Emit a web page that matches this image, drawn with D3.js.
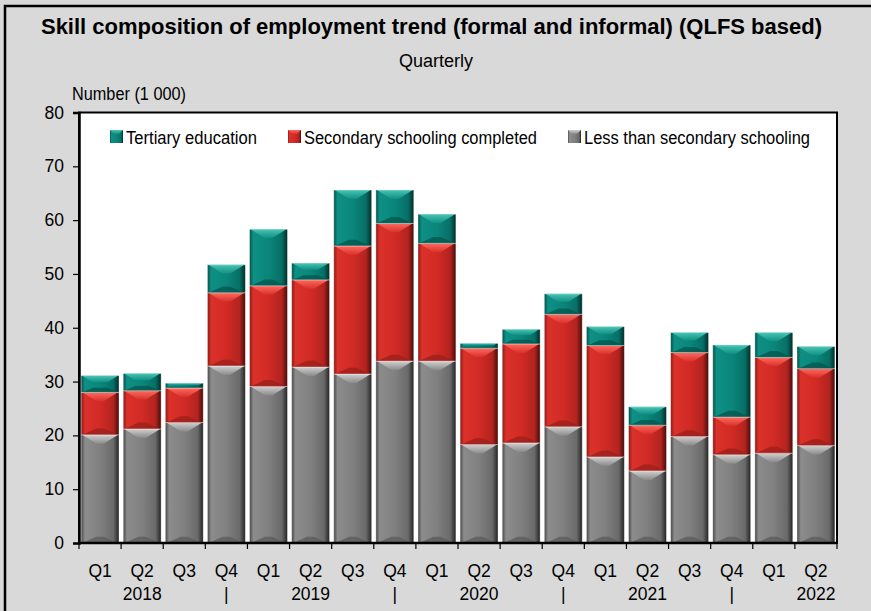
<!DOCTYPE html>
<html>
<head>
<meta charset="utf-8">
<script src="https://cdn.jsdelivr.net/npm/d3@7"></script>
<style>
    body { margin: 0; background: #d9d9d9; }
    text { font-family: "Liberation Sans", Arial, sans-serif; fill: #000; }
</style>
</head>
<body>
<div id="chart"></div>
<script>
// quarterly categories, 2018 Q1 .. 2022 Q2
const quarters = ["Q1", "Q2", "Q3", "Q4", "Q1", "Q2", "Q3", "Q4", "Q1", "Q2", "Q3", "Q4", "Q1", "Q2", "Q3", "Q4", "Q1", "Q2"];
const yearLabels = ["", "2018", "", "|", "", "2019", "", "|", "", "2020", "", "|", "", "2021", "", "|", "", "2022"];

// Number (1 000)
const lessThanSecondary = [20.1, 21.2, 22.4, 32.9, 29.1, 32.7, 31.4, 33.8, 33.8, 18.3, 18.6, 21.6, 16.0, 13.4, 19.8, 16.4, 16.7, 18.1];
const secondaryCompleted = [7.9, 7.1, 6.4, 13.6, 18.7, 16.2, 23.8, 25.6, 21.9, 17.9, 18.4, 20.9, 20.7, 8.5, 15.6, 7.0, 17.8, 14.3];
const tertiary = [3.1, 3.2, 0.9, 5.2, 10.5, 3.1, 10.4, 6.2, 5.4, 0.9, 2.7, 3.8, 3.5, 3.4, 3.7, 13.4, 4.6, 4.1];

const yTicks = [0, 10, 20, 30, 40, 50, 60, 70, 80];

const series = [
    { key: "less", name: "Less than secondary schooling", values: lessThanSecondary,
      stops: ["#474747", "#8c8c8c", "#808080", "#6a6a6a", "#232323"], top: ["#d0d0d0", "#8a8a8a"], bottom: "#5c5c5c" },
    { key: "sec", name: "Secondary schooling completed", values: secondaryCompleted,
      stops: ["#8c1a16", "#da312b", "#d22a24", "#b22420", "#470c0a"], top: ["#ff6a5e", "#d8302a"], bottom: "#9c201c" },
    { key: "ter", name: "Tertiary education", values: tertiary,
      stops: ["#05524b", "#0f9084", "#0a867b", "#076f66", "#022c28"], top: ["#47c6b6", "#0f8e82"], bottom: "#055750" }
];
const legendOrder = ["ter", "sec", "less"];

const width = 871, height = 611;
const margin = { left: 79, right: 837, top: 112.5, bottom: 543 };

const keys = quarters.map((q, i) => i + "_" + q);
const rows = keys.map((k, i) => {
    const r = { key: k };
    series.forEach((s) => (r[s.key] = s.values[i]));
    return r;
});

const x = d3.scaleBand().domain(keys).range([margin.left, margin.right]).paddingInner(0.1).paddingOuter(0.05);
const y = d3.scaleLinear().domain([0, 80]).range([margin.bottom, margin.top]);

const stacked = d3.stack().keys(series.map((s) => s.key))(rows);

const svg = d3.select("#chart").append("svg").attr("width", width).attr("height", height);
const defs = svg.append("defs");

series.forEach((s) => {
    const g = defs.append("linearGradient").attr("id", "side-" + s.key).attr("x1", 0).attr("x2", 1).attr("y1", 0).attr("y2", 0);
    [0, 0.1, 0.5, 0.85, 1].forEach((o, i) => g.append("stop").attr("offset", o).attr("stop-color", s.stops[i]));
    const t = defs.append("linearGradient").attr("id", "top-" + s.key).attr("x1", 0).attr("x2", 0).attr("y1", 0).attr("y2", 1);
    t.append("stop").attr("offset", 0).attr("stop-color", s.top[0]);
    t.append("stop").attr("offset", 1).attr("stop-color", s.top[1]);
});

// outer frame
svg.append("rect").attr("x", 5).attr("y", 6).attr("width", 900).attr("height", 700)
    .attr("fill", "#d9d9d9").attr("stroke", "#000").attr("stroke-width", 2.5);

svg.append("text").attr("x", 431.5).attr("y", 34).attr("text-anchor", "middle")
    .style("font-size", "22px").style("font-weight", "bold")
    .text("Skill composition of employment trend (formal and informal) (QLFS based)");
svg.append("text").attr("x", 436).attr("y", 67).attr("text-anchor", "middle")
    .style("font-size", "18px").text("Quarterly");
svg.append("text").attr("x", 72).attr("y", 100)
    .attr("textLength", 114).attr("lengthAdjust", "spacingAndGlyphs")
    .style("font-size", "17.5px").text("Number (1 000)");

// plot area
svg.append("rect").attr("x", margin.left).attr("y", margin.top)
    .attr("width", margin.right - margin.left).attr("height", margin.bottom - margin.top)
    .attr("fill", "#fff").attr("stroke", "#000").attr("stroke-width", 2);

// bars with bevelled look
const layer = svg.append("g");
stacked.forEach((st, si) => {
    const s = series[si];
    st.forEach((d, i) => {
        const bx = x(keys[i]), bw = x.bandwidth();
        const y0 = y(d[1]), y1 = y(d[0]);
        const h = y1 - y0;
        if (h <= 0) return;
        const b = Math.min(9, h / 2.5);
        const g = layer.append("g");
        g.append("rect").attr("x", bx).attr("y", y0).attr("width", bw).attr("height", h)
            .attr("fill", `url(#side-${s.key})`);
        g.append("polygon")
            .attr("points", [[bx + 1, y0], [bx + bw - 1, y0], [bx + bw - 1 - b * 1.6, y0 + b], [bx + 1 + b * 1.6, y0 + b]].join(" "))
            .attr("fill", `url(#top-${s.key})`);
        g.append("polygon")
            .attr("points", [[bx + 1, y1], [bx + bw - 1, y1], [bx + bw - 1 - b * 1.6, y1 - b * 0.7], [bx + 1 + b * 1.6, y1 - b * 0.7]].join(" "))
            .attr("fill", s.bottom).attr("opacity", 0.8);
        g.append("rect").attr("x", bx).attr("y", y0).attr("width", bw).attr("height", h)
            .attr("fill", "none").attr("stroke", "#fff").attr("stroke-opacity", 0.45).attr("stroke-width", 0.8);
    });
});

// axes
const yAxis = svg.append("g").attr("transform", `translate(${margin.left},0)`)
    .call(d3.axisLeft(y).tickValues(yTicks).tickSize(6).tickPadding(9));
yAxis.select(".domain").attr("stroke-width", 2.5);
yAxis.selectAll(".tick line").attr("stroke-width", 1.2);
yAxis.selectAll(".tick text").style("font-size", "17.5px").style("font-family", '"Liberation Sans", Arial, sans-serif');

const boundaries = d3.range(keys.length + 1).map((i) => margin.left + i * x.step());
const xAxis = svg.append("g");
xAxis.append("line").attr("x1", margin.left).attr("x2", margin.right)
    .attr("y1", margin.bottom).attr("y2", margin.bottom).attr("stroke", "#000").attr("stroke-width", 2.5);
xAxis.selectAll("line.tick").data(boundaries).join("line").attr("class", "tick")
    .attr("x1", (d) => d).attr("x2", (d) => d).attr("y1", margin.bottom).attr("y2", margin.bottom + 6)
    .attr("stroke", "#000").attr("stroke-width", 1.2);
xAxis.selectAll("text.q").data(keys).join("text").attr("class", "q")
    .attr("x", (d) => x(d) + x.bandwidth() / 2).attr("y", 577).attr("text-anchor", "middle")
    .style("font-size", "17.5px").text((d, i) => quarters[i]);
xAxis.selectAll("text.yr").data(keys).join("text").attr("class", "yr")
    .attr("x", (d) => x(d) + x.bandwidth() / 2).attr("y", 600).attr("text-anchor", "middle")
    .style("font-size", "17.5px").text((d, i) => yearLabels[i]);

// legend
const legendX = { ter: 110, sec: 288, less: 568 };
const legendWidth = { ter: 131, sec: 233, less: 226 };
const legend = svg.append("g");
legendOrder.forEach((k) => {
    const s = series.find((d) => d.key === k);
    const lg = legend.append("g").attr("transform", `translate(${legendX[k]},130)`);
    lg.append("rect").attr("width", 13).attr("height", 13).attr("fill", `url(#side-${k})`);
    lg.append("polygon").attr("points", "0,0 13,0 9,4 4,4").attr("fill", `url(#top-${k})`);
    lg.append("text").attr("x", 16).attr("y", 13.5)
        .attr("textLength", legendWidth[k]).attr("lengthAdjust", "spacingAndGlyphs")
        .style("font-size", "17.5px").text(s.name);
});
</script>
</body>
</html>
